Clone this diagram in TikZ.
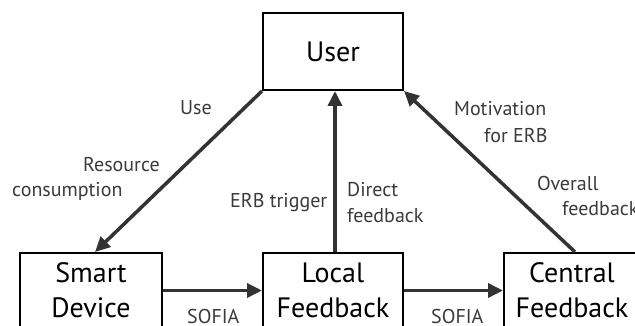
\documentclass[tikz,border=0pt]{standalone}
\usepackage{fontspec}
\setmainfont{PT Sans}
\usetikzlibrary{arrows.meta}
\definecolor{arrowgray}{HTML}{333333}
\definecolor{labelgray}{HTML}{3a3a3a}
\begin{document}
\begin{tikzpicture}[x=1pt,y=-1pt,
  box/.style={draw=black,line width=2pt,align=center,font=\fontsize{28}{35}\selectfont,inner sep=0pt},
  flow/.style={draw=arrowgray,line width=3.5pt,-{Triangle[length=15pt,width=14pt]}},
  lbl/.style={text=labelgray,font=\fontsize{20}{22}\selectfont,inner sep=0pt,anchor=west}]
\useasboundingbox (0,0) rectangle (635,326);
\clip (0,0) rectangle (635,326);

% boxes
\node[box,minimum width=140pt,minimum height=77pt] (user) at (333,51.5) {User};
\node[box,minimum width=142pt,minimum height=75pt] (smart) at (91,290.5) {Smart\\Device};
\node[box,minimum width=140pt,minimum height=75pt] (local) at (333,290.5) {Local\\Feedback};
\node[box,minimum width=136pt,minimum height=75pt] (central) at (572,290.5) {Central\\Feedback};

% connectors
\draw[flow] (user.south west) -- ([xshift=4pt]smart.north);
\draw[flow] ([xshift=2pt]local.north) -- ([xshift=2pt]user.south);
\draw[flow] ([xshift=3pt]central.north) -- (user.south east);
\draw[flow] (smart.east) -- (local.west);
\draw[flow] (local.east) -- (central.west);

% labels
\node[lbl] (use) at (180,108) {Use};
\node[lbl] (res1) at (83,165) {Resource};
\node[lbl] (res2) at (12,191) {consumption};
\node[lbl] (erb) at (230,203) {ERB trigger};
\node[lbl] (dir1) at (347,190) {Direct};
\node[lbl] (dir2) at (347,216) {feedback};
\node[lbl] (mot1) at (454,109) {Motivation};
\node[lbl] (mot2) at (484,136) {for ERB};
\node[lbl] (ove1) at (537,183) {Overall};
\node[lbl] (ove2) at (562,209) {feedback};
\node[lbl] (sofia1) at (187,316) {SOFIA};
\node[lbl] (sofia2) at (431,316) {SOFIA};
\end{tikzpicture}
\end{document}
